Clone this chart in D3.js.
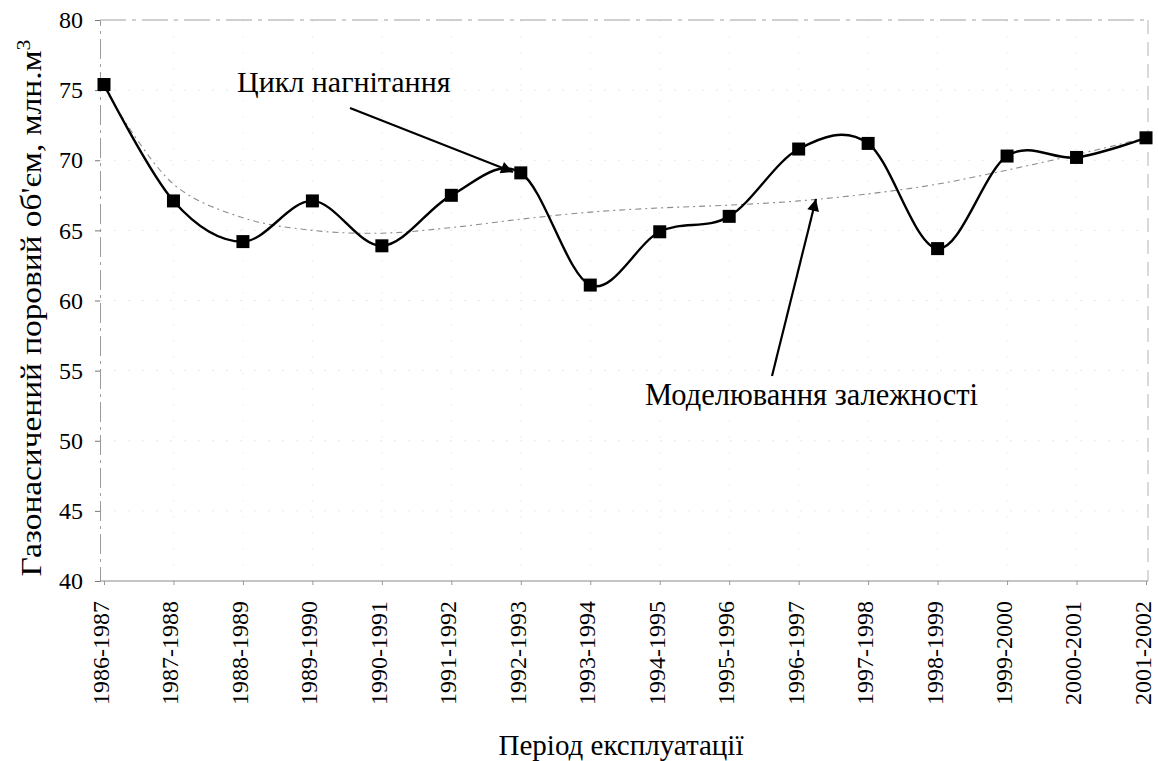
<!DOCTYPE html>
<html>
<head>
<meta charset="utf-8">
<script src="https://cdn.jsdelivr.net/npm/d3@7"></script>
<style>
  html, body { margin: 0; padding: 0; background: #fff; }
  svg { display: block; }
</style>
</head>
<body>
<svg id="chart" width="1158" height="761" font-family="Liberation Serif"></svg>
<script>
// Operating periods (x categories)
const periods = [
  "1986-1987", "1987-1988", "1988-1989", "1989-1990", "1990-1991", "1991-1992",
  "1992-1993", "1993-1994", "1994-1995", "1995-1996", "1996-1997", "1997-1998",
  "1998-1999", "1999-2000", "2000-2001", "2001-2002"
];
// Gas-saturated pore volume, mln m3 (observed)
const poreVolume = [75.4, 67.1, 64.2, 67.1, 63.9, 67.5, 69.1, 61.1, 64.9, 66.0, 70.8, 71.2, 63.7, 70.3, 70.2, 71.6];
// Modelled dependence (trend curve)
const modelVolume = [75.2, 68.3, 65.9, 65.0, 64.8, 65.2, 65.8, 66.3, 66.6, 66.8, 67.1, 67.6, 68.3, 69.3, 70.4, 71.6];
// Y axis ticks
const yTicks = [40, 45, 50, 55, 60, 65, 70, 75, 80];

const FONT = "Liberation Serif";
const svg = d3.select("#chart");
const frame = { left: 100, right: 1148, top: 20, bottom: 581 };

// apply the serif face both as attribute and inline style
function serif(sel, size) {
  return sel.attr("font-family", FONT).style("font-family", FONT)
    .attr("font-size", size).style("font-size", size + "px")
    .attr("fill", "#000");
}

const x = d3.scalePoint().domain(periods).range([104, 1146]);
const y = d3.scaleLinear().domain([40, 80]).range([frame.bottom, frame.top]);

// faint grid
const grid = svg.append("g");
grid.selectAll("line.h").data(yTicks.slice(1, -1)).join("line")
  .attr("x1", frame.left).attr("x2", frame.right)
  .attr("y1", d => y(d)).attr("y2", d => y(d))
  .attr("stroke", "#e8e8e8").attr("stroke-width", 1).attr("stroke-dasharray", "2,12");
grid.selectAll("line.v").data(periods.slice(1, -1)).join("line")
  .attr("x1", d => x(d)).attr("x2", d => x(d))
  .attr("y1", frame.top).attr("y2", frame.bottom)
  .attr("stroke", "#eeeeee").attr("stroke-width", 1).attr("stroke-dasharray", "2,14");

// plot frame
svg.append("line").attr("x1", frame.left).attr("x2", frame.right).attr("y1", frame.top).attr("y2", frame.top)
  .attr("stroke", "#a0a0a0").attr("stroke-dasharray", "26,6,4,6");
svg.append("line").attr("x1", frame.right).attr("x2", frame.right).attr("y1", frame.top).attr("y2", frame.bottom)
  .attr("stroke", "#b4b4b4").attr("stroke-dasharray", "14,8");

// Y axis
const yAxis = d3.axisLeft(y).tickValues(yTicks).tickSize(5).tickPadding(12);
const gy = svg.append("g").attr("transform", `translate(${frame.left},0)`).call(yAxis)
  .attr("font-family", FONT).attr("font-size", 24);
gy.select(".domain").attr("stroke", "#9a9a9a").attr("stroke-dasharray", "20,5,3,5");
gy.selectAll(".tick line").attr("stroke", "#777");
serif(gy.selectAll(".tick text"), 24);

// X axis
const xAxis = d3.axisBottom(x).tickSize(4).tickPadding(0).tickSizeOuter(0);
const gx = svg.append("g").attr("transform", `translate(0,${frame.bottom})`).call(xAxis)
  .attr("font-family", FONT).attr("font-size", 24);
gx.select(".domain").attr("stroke", "#8a8a8a").attr("d", `M${frame.left},0H${frame.right}`);
gx.selectAll(".tick line").attr("stroke", "#999");
serif(gx.selectAll(".tick text"), 24)
  .attr("text-anchor", "end")
  .attr("transform", "rotate(-90)")
  .attr("x", -20).attr("y", -4).attr("dy", "0.35em");

// trend (model) curve
const trendLine = d3.line()
  .x((d, i) => x(periods[i])).y(d => y(d))
  .curve(d3.curveCatmullRom.alpha(0.5));
svg.append("path").datum(modelVolume)
  .attr("d", trendLine)
  .attr("fill", "none").attr("stroke", "#8c8c8c").attr("stroke-width", 1.1)
  .attr("stroke-dasharray", "6,4,2,4");

// observed curve
const dataLine = d3.line()
  .x((d, i) => x(periods[i])).y(d => y(d))
  .curve(d3.curveCardinal.tension(0));
svg.append("path").datum(poreVolume)
  .attr("d", dataLine)
  .attr("fill", "none").attr("stroke", "#000").attr("stroke-width", 2.4);

const ms = 13;
svg.append("g").selectAll("rect").data(poreVolume).join("rect")
  .attr("x", (d, i) => x(periods[i]) - ms / 2)
  .attr("y", d => y(d) - ms / 2)
  .attr("width", ms).attr("height", ms).attr("fill", "#000");

// annotations
const defs = svg.append("defs");
defs.append("marker").attr("id", "arrow")
  .attr("viewBox", "0 0 10 10").attr("refX", 10).attr("refY", 5)
  .attr("markerWidth", 16).attr("markerHeight", 12).attr("markerUnits", "userSpaceOnUse")
  .attr("orient", "auto")
  .append("path").attr("d", "M0,0L10,5L0,10Z").attr("fill", "#000");

serif(svg.append("text").attr("x", 237).attr("y", 92), 30).text("Цикл нагнітання");
svg.append("line").attr("x1", 350).attr("y1", 108).attr("x2", 513).attr("y2", 172)
  .attr("stroke", "#000").attr("stroke-width", 2.2).attr("marker-end", "url(#arrow)");

serif(svg.append("text").attr("x", 645).attr("y", 405), 30.5).text("Моделювання залежності");
svg.append("line").attr("x1", 772).attr("y1", 376).attr("x2", 816).attr("y2", 199)
  .attr("stroke", "#000").attr("stroke-width", 2.2).attr("marker-end", "url(#arrow)");

// axis titles
serif(svg.append("text").attr("x", 621).attr("y", 755).attr("text-anchor", "middle"), 29)
  .text("Період експлуатації");

// vertical title, slightly stretched along its length
const yt = serif(svg.append("text").attr("transform", "translate(41,308) scale(1,1.15) rotate(-90)")
  .attr("text-anchor", "middle"), 29);
yt.append("tspan").text("Газонасичений поровий об'єм, млн.м");
yt.append("tspan").attr("dy", "-0.6em").style("font-size", "19px").text("3");
</script>
</body>
</html>
